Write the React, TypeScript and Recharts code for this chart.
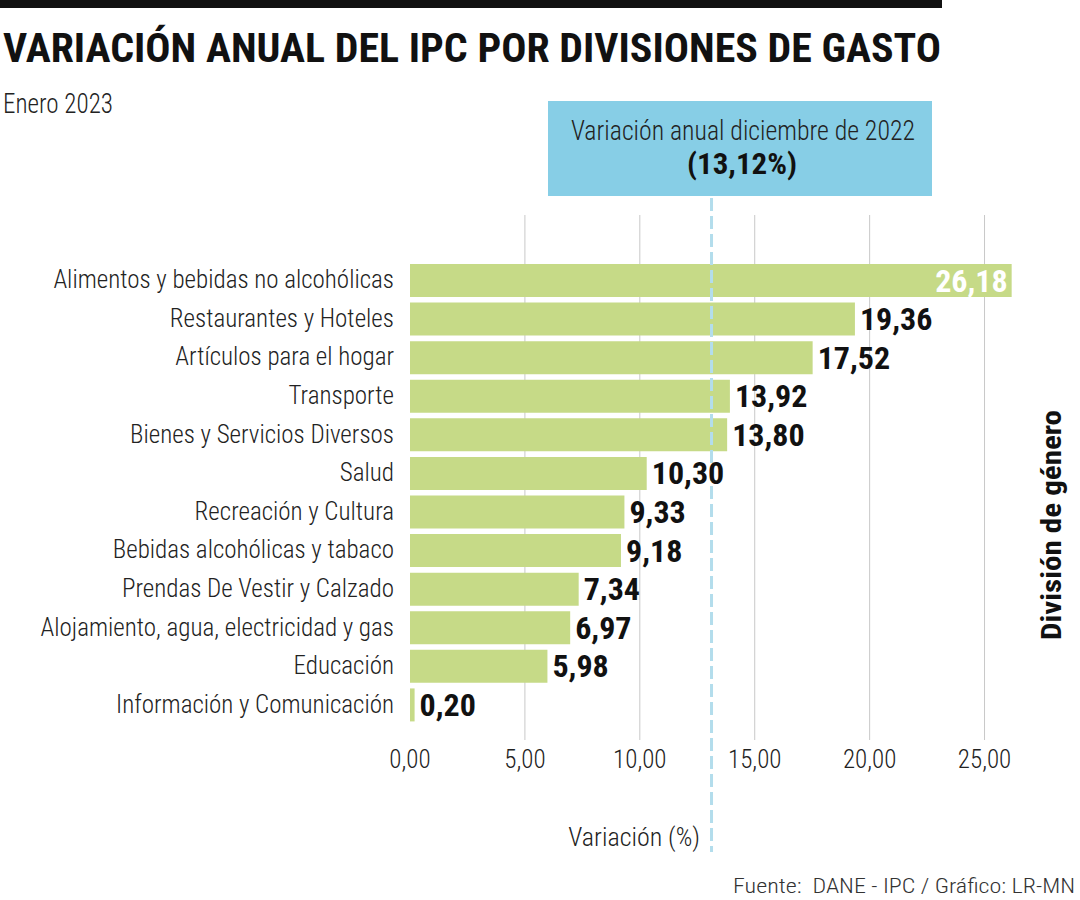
import React from 'react';
import {
  BarChart,
  Bar,
  XAxis,
  YAxis,
  CartesianGrid,
  ReferenceLine,
  LabelList,
} from 'recharts';

const categories = [
  'Alimentos y bebidas no alcohólicas',
  'Restaurantes y Hoteles',
  'Artículos para el hogar',
  'Transporte',
  'Bienes y Servicios Diversos',
  'Salud',
  'Recreación y Cultura',
  'Bebidas alcohólicas y tabaco',
  'Prendas De Vestir y Calzado',
  'Alojamiento, agua, electricidad y gas',
  'Educación',
  'Información y Comunicación',
];

const variacion = [26.18, 19.36, 17.52, 13.92, 13.8, 10.3, 9.33, 9.18, 7.34, 6.97, 5.98, 0.2];

const xTicks = [0, 5, 10, 15, 20, 25];
const gridValues = [5, 10, 15, 20, 25];
const diciembre2022 = 13.12;

const data = categories.map((name, i) => ({ name, value: variacion[i] }));

const FONT = '"Liberation Sans Narrow", "Roboto Condensed", "Liberation Sans", sans-serif';
const fmt = (v: number) => v.toFixed(2).replace('.', ',');

const CategoryTick = (props: any) => {
  const { x, y, payload } = props;
  return (
    <text
      x={x - 8}
      y={y}
      dy={8}
      textAnchor='end'
      fontFamily={FONT}
      fontWeight={300}
      fontSize={25}
      fill='#222'
    >
      {payload.value}
    </text>
  );
};

const ValueTick = (props: any) => {
  const { x, y, payload } = props;
  return (
    <text x={x} y={y} dy={20} textAnchor='middle' fontFamily={FONT} fontWeight={300} fontSize={25} fill='#222'>
      {fmt(payload.value)}
    </text>
  );
};

// value goes inside the bar when it would run past the last tick
const ValueLabel = (props: any) => {
  const { x, y, width, height, value } = props;
  const inside = value > 25;
  return (
    <text
      x={inside ? x + width - 4 : x + width + 5}
      y={y + height / 2}
      dy={11}
      textAnchor={inside ? 'end' : 'start'}
      fontFamily={FONT}
      fontWeight='bold'
      fontSize={32}
      fill={inside ? '#fff' : '#111'}
    >
      {fmt(value)}
    </text>
  );
};

const DashedLine = (props: any) => {
  const { x1 } = props;
  return (
    <line x1={x1} x2={x1} y1={198} y2={852} stroke='#B3DDEC' strokeWidth={3} strokeDasharray='13 5' />
  );
};

const App: React.FC = () => {
  return (
    <div style={{ position: 'absolute', left: 0, top: 0, width: 1080, height: 900, background: '#fff' }}>
      <div style={{ position: 'absolute', left: 548, top: 101, width: 384, height: 95, background: '#87CEE6' }} />
      <div style={{ position: 'absolute', left: 0, top: 0 }}>
        <BarChart
          width={1080}
          height={900}
          layout='vertical'
          data={data}
          margin={{ top: 215, right: 38, bottom: 0, left: 0 }}
        >
          <CartesianGrid horizontal={false} verticalValues={gridValues} stroke='#C8C8C8' />
          <XAxis
            type='number'
            domain={[0, 27.5]}
            ticks={xTicks}
            axisLine={false}
            tickLine={false}
            height={160}
            tick={<ValueTick />}
            interval={0}
          />
          <YAxis
            type='category'
            dataKey='name'
            width={410}
            axisLine={false}
            tickLine={false}
            tick={<CategoryTick />}
            padding={{ top: 46, bottom: 16 }}
            interval={0}
          />
          <Bar dataKey='value' fill='#C6DA87' barSize={33} isAnimationActive={false}>
            <LabelList dataKey='value' content={<ValueLabel />} />
          </Bar>
          <ReferenceLine x={diciembre2022} shape={<DashedLine />} ifOverflow='visible' />
        </BarChart>
      </div>
      <svg width={1080} height={900} style={{ position: 'absolute', left: 0, top: 0, pointerEvents: 'none' }}>
        <rect x={0} y={0} width={942} height={8} fill='#111' />
        <text x={3} y={62} fontFamily={FONT} fontWeight='bold' fontSize={41} fill='#111' textLength={938} lengthAdjust='spacingAndGlyphs'>
          VARIACIÓN ANUAL DEL IPC POR DIVISIONES DE GASTO
        </text>
        <text x={3} y={113} fontFamily={FONT} fontWeight={300} fontSize={27} fill='#222' textLength={110} lengthAdjust='spacingAndGlyphs'>
          Enero 2023
        </text>
        <text x={571} y={140} fontFamily={FONT} fontWeight={300} fontSize={28} fill='#222' textLength={344} lengthAdjust='spacingAndGlyphs'>
          Variación anual diciembre de 2022
        </text>
        <text x={687} y={174} fontFamily={FONT} fontWeight='bold' fontSize={29} fill='#111' textLength={110} lengthAdjust='spacingAndGlyphs'>
          (13,12%)
        </text>
        <text x={700} y={846} textAnchor='end' fontFamily={FONT} fontWeight={300} fontSize={26} fill='#222'>
          Variación (%)
        </text>
        <text
          x={0}
          y={0}
          transform='translate(1061,525) rotate(-90)'
          textAnchor='middle'
          fontFamily={FONT}
          fontWeight='bold'
          fontSize={27}
          fill='#111'
          textLength={230}
          lengthAdjust='spacingAndGlyphs'
        >
          División de género
        </text>
        <text x={733} y={893} fontFamily={FONT} fontWeight={300} fontSize={21} fill='#333' textLength={342} lengthAdjust='spacingAndGlyphs' style={{ whiteSpace: 'pre' }}>
          Fuente:  DANE - IPC / Gráfico: LR-MN
        </text>
      </svg>
    </div>
  );
};

export default App;
